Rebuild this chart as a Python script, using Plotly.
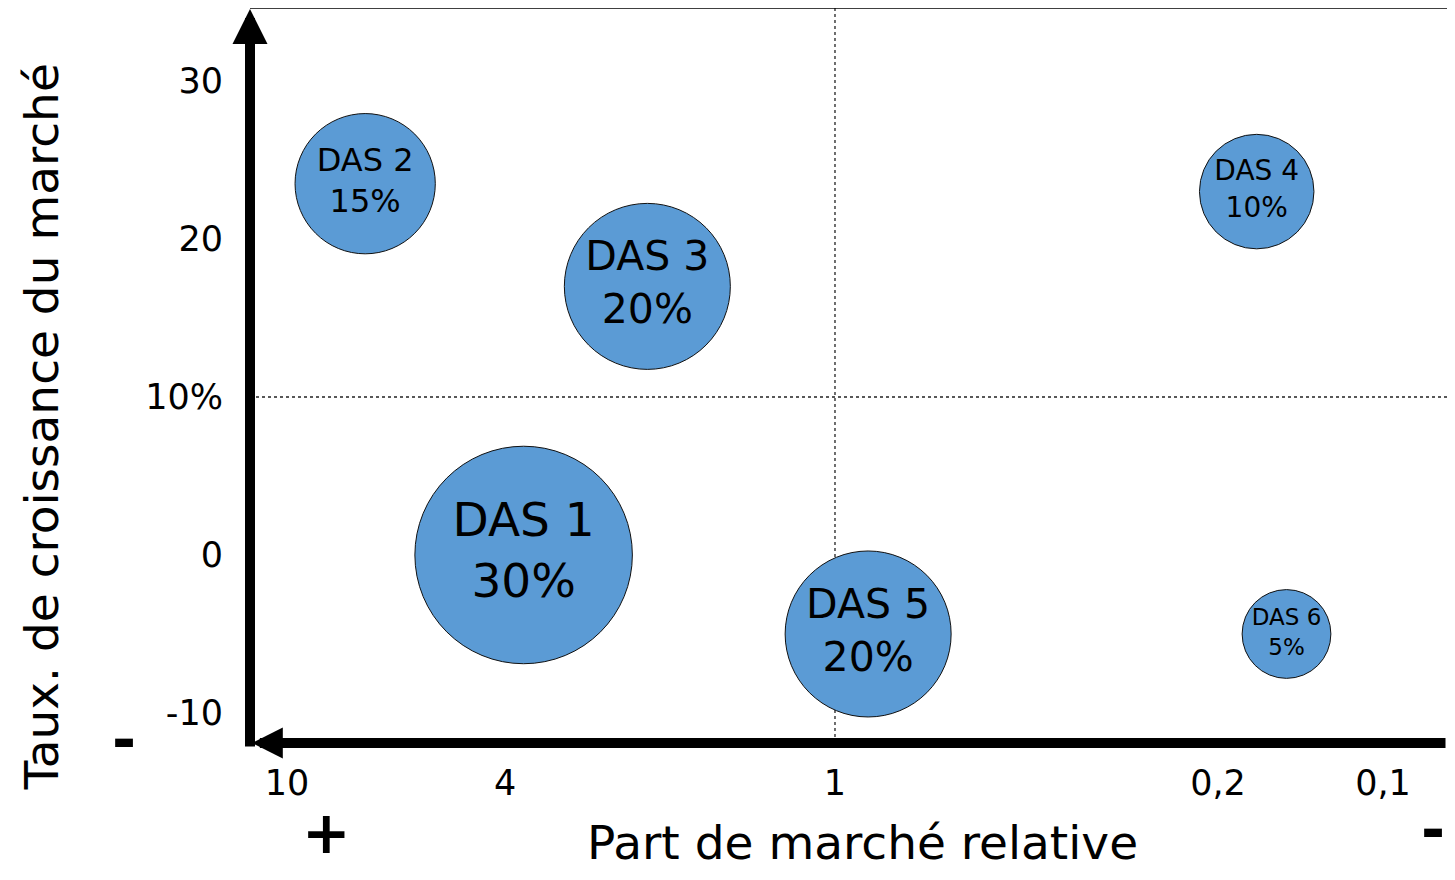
import plotly.graph_objects as go

# ---- data ----
das_names = ["DAS 1", "DAS 2", "DAS 3", "DAS 4", "DAS 5", "DAS 6"]
part_marche_relative = [3.7, 7.2, 2.2, 0.17, 0.87, 0.15]   # x (log, reversed)
taux_croissance = [0, 23.5, 17, 23, -5, -5]                # y (%)
part_ca = [30, 15, 20, 10, 20, 5]                           # bubble weight (%)

x_tick_vals = [10, 4, 1, 0.2, 0.1]
x_tick_text = ["10", "4", "1", "0,2", "0,1"]
y_tick_vals = [-10, 0, 10, 20, 30]
y_tick_text = ["-10", "0", "10%", "20", "30"]

seuil_part = 1
seuil_croissance = 10

# ---- styling ----
FONT = "DejaVu Sans"
BLUE = "#5B9BD5"

diam = [63 + 5.15 * s for s in part_ca]
text_sizes = {30: 47, 20: 41, 15: 32, 10: 28, 5: 23}
labels = [f"{n}<br>{s}%" for n, s in zip(das_names, part_ca)]

fig = go.Figure()
fig.add_trace(go.Scatter(
    x=part_marche_relative,
    y=taux_croissance,
    mode="markers+text",
    text=labels,
    textposition="middle center",
    textfont=dict(family=FONT, color="black", size=[text_sizes[s] for s in part_ca]),
    marker=dict(size=diam, color=BLUE, line=dict(color="#111111", width=1), opacity=1),
    hoverinfo="skip",
    cliponaxis=False,
    showlegend=False,
))

# quadrant separators
fig.add_hline(y=seuil_croissance, line=dict(color="#222222", width=1.3, dash="dot"), layer="below")
fig.add_vline(x=seuil_part, line=dict(color="#222222", width=1.3, dash="dot"), layer="below")

# top border
fig.add_shape(type="line", xref="paper", yref="paper", x0=0, x1=1, y0=1, y1=1,
              line=dict(color="black", width=1.5), layer="below")

annotations = [
    # vertical axis arrow (up)
    dict(xref="paper", yref="paper", x=0, y=1, ax=0, ay=740, text="", showarrow=True,
         arrowhead=2, arrowsize=0.7, arrowwidth=10, arrowcolor="black"),
    # horizontal axis arrow (left)
    dict(xref="paper", yref="paper", x=0.0015, y=0, ax=1200, ay=0, text="", showarrow=True,
         arrowhead=2, arrowsize=0.62, arrowwidth=10, arrowcolor="black"),
    # axis titles
    dict(xref="paper", yref="paper", x=-0.1735, y=0.43, text="Taux. de croissance du marché",
         textangle=-90, showarrow=False, xanchor="center", yanchor="middle",
         font=dict(family=FONT, size=47, color="black")),
    dict(xref="paper", yref="paper", x=0.512, y=-0.1755, text="Part de marché relative",
         showarrow=False, xanchor="center", yanchor="bottom",
         font=dict(family=FONT, size=47, color="black")),
    # + / - markers
    dict(xref="paper", yref="paper", x=-0.1053, y=0.004, text="<b>-</b>", showarrow=False,
         xanchor="center", yanchor="middle", font=dict(family=FONT, size=58, color="black")),
    dict(xref="paper", yref="paper", x=0.0635, y=-0.1225, text="<b>+</b>", showarrow=False,
         xanchor="center", yanchor="middle", font=dict(family=FONT, size=58, color="black")),
    dict(xref="paper", yref="paper", x=1, y=-0.118, text="<b>-</b>", showarrow=False,
         xanchor="right", yanchor="middle", font=dict(family=FONT, size=58, color="black")),
]

# page body has an 8px default margin: size the figure so nothing overflows the window
fig.update_layout(
    width=1439, height=864,
    margin=dict(l=242, r=0, t=0, b=129),
    paper_bgcolor="white", plot_bgcolor="white",
    font=dict(family=FONT, color="black"),
    annotations=annotations,
    xaxis=dict(type="log", range=[1.0675, -1.1168], autorange=False,
               showgrid=False, zeroline=False, showline=False,
               tickvals=x_tick_vals, ticktext=x_tick_text, ticks="",
               ticklabelstandoff=16, tickfont=dict(family=FONT, size=35, color="black")),
    yaxis=dict(range=[-11.9, 34.62], autorange=False,
               showgrid=False, zeroline=False, showline=False,
               tickvals=y_tick_vals, ticktext=y_tick_text, ticks="",
               ticklabelstandoff=26, tickfont=dict(family=FONT, size=35, color="black")),
)

fig.write_html("out.html")
